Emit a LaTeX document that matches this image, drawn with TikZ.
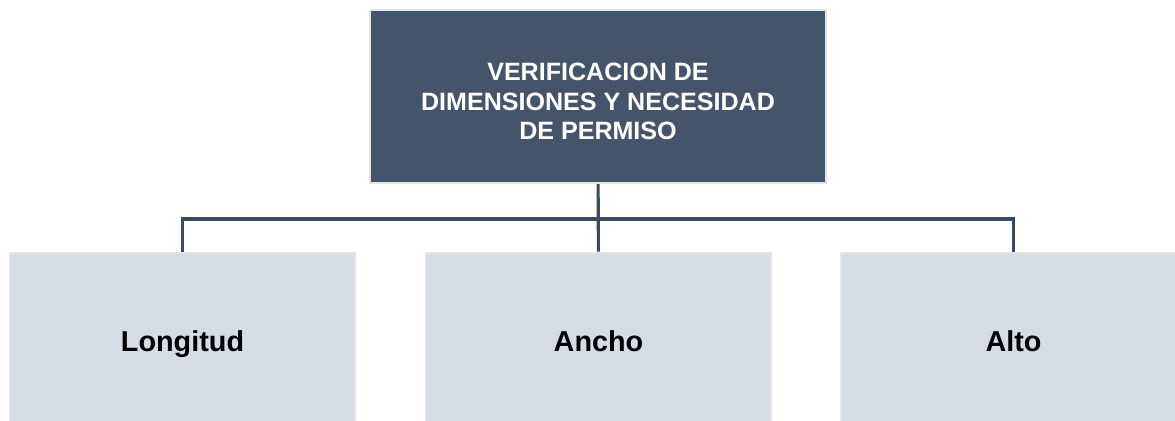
\documentclass[tikz,border=0pt]{standalone}
\usepackage{fontspec}
\setmainfont{Liberation Sans}
\usepackage{tikz}

\definecolor{slate}{HTML}{44546A}
\definecolor{slateline}{HTML}{3B4A60}
\definecolor{paleblue}{HTML}{D6DCE5}
\definecolor{rim}{HTML}{E4E4E4}

\begin{document}
\begin{tikzpicture}[x=0.75pt,y=-0.75pt,
  headbox/.style={rectangle,draw=rim,line width=1.5pt,fill=slate,text=white,
    minimum width=342pt,minimum height=130pt,align=center,
    font=\fontsize{18.8}{22.4}\selectfont\bfseries},
  itembox/.style={rectangle,draw=rim,line width=1.5pt,fill=paleblue,text=black,
    minimum width=259pt,minimum height=128pt,text height=20pt,text depth=0pt,
    font=\fontsize{21.6}{26}\selectfont\bfseries},
  link/.style={draw=slateline,line width=2.3pt}]
\useasboundingbox (0,0) rectangle (1175,421);
\node[headbox] (V) at (598,96.5) {\rule{0pt}{20.5pt}VERIFICACION DE\\DIMENSIONES Y NECESIDAD\\DE PERMISO};
\node[itembox] (L) at (182.5,338) {Longitud};
\node[itembox] (A) at (598.5,338) {Ancho};
\node[itembox] (H) at (1013.5,338) {Alto};
\coordinate (J) at (598,219);
\path[link]
  (V) edge (A)
  (L.north) edge[to path={|- (\tikztotarget)}] (J)
  (J) edge[to path={-| (\tikztotarget)}] (H.north)
;
\end{tikzpicture}
\end{document}
